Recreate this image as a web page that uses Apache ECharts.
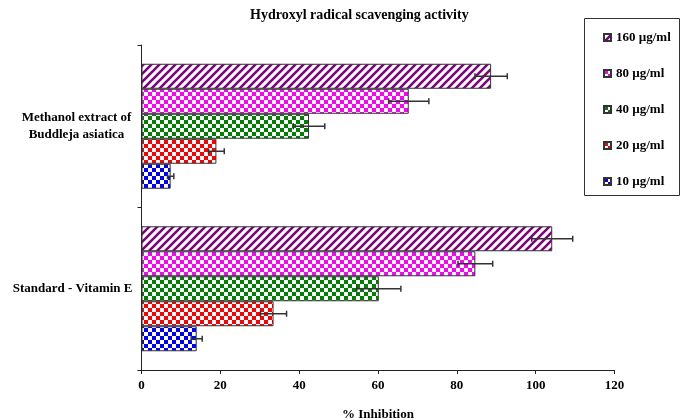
<!DOCTYPE html>
<html>
<head>
<meta charset="utf-8">
<script src="https://cdn.jsdelivr.net/npm/echarts@6/dist/echarts.min.js"></script>
<style>html,body{margin:0;padding:0;background:#fff}#c{width:682px;height:420px}</style>
</head>
<body>
<div id="c"></div>
<script>
// ---- data ----
const categories = ['Standard - Vitamin E', 'Methanol extract of\nBuddleja asiatica'];
const seriesNames = ['160 µg/ml', '80 µg/ml', '40 µg/ml', '20 µg/ml', '10 µg/ml'];
const values160 = [104.2, 88.7];
const values80 = [84.7, 67.8];
const values40 = [60.2, 42.5];
const values20 = [33.5, 19.0];
const values10 = [14.0, 7.4];
const err160 = [5.2, 4.1];
const err80 = [4.4, 5.1];
const err40 = [5.6, 4.0];
const err20 = [3.3, 2.0];
const err10 = [1.4, 0.8];
const xTicks = [0, 20, 40, 60, 80, 100, 120];

const seriesValues = [values160, values80, values40, values20, values10];
const seriesErrors = [err160, err80, err40, err20, err10];
const seriesColors = ['#800080', '#ff00ff', '#008000', '#ff0000', '#0000ff'];
const seriesKinds = ['hatch', 'check', 'check', 'check', 'check'];

function makePattern(kind, color) {
  const c = document.createElement('canvas');
  c.width = 8; c.height = 8;
  const g = c.getContext('2d');
  g.fillStyle = '#fff'; g.fillRect(0, 0, 8, 8);
  g.fillStyle = color; g.strokeStyle = color;
  if (kind === 'check') {
    g.fillRect(0, 0, 4, 4);
    g.fillRect(4, 4, 4, 4);
  } else {
    g.lineWidth = 2.6;
    g.beginPath();
    g.moveTo(-2, 10); g.lineTo(10, -2);
    g.moveTo(-2, 2); g.lineTo(2, -2);
    g.moveTo(6, 10); g.lineTo(10, 6);
    g.stroke();
  }
  return { image: c, repeat: 'repeat' };
}

const FONT = 'Liberation Serif';
const BAR_W = 25;
const N = seriesNames.length;

const series = [];
seriesNames.forEach((name, i) => {
  series.push({
    name: name,
    type: 'bar',
    barWidth: BAR_W,
    barGap: '0%',
    data: seriesValues[i],
    itemStyle: { color: makePattern(seriesKinds[i], seriesColors[i]), borderColor: '#333', borderWidth: 1 },
    emphasis: { disabled: true },
    animation: false
  });
});
seriesNames.forEach((name, i) => {
  series.push({
    type: 'custom',
    name: name + ' err',
    data: seriesValues[i].map((v, k) => [v, k, seriesErrors[i][k]]),
    encode: { x: 0, y: 1 },
    z: 10,
    animation: false,
    silent: true,
    renderItem: function (params, api) {
      const v = api.value(0), k = api.value(1), e = api.value(2);
      const lo = api.coord([v - e, k]);
      const hi = api.coord([v + e, k]);
      const y = lo[1] + (i - (N - 1) / 2) * BAR_W;
      const cap = 3;
      const st = { stroke: '#333', lineWidth: 1.5 };
      return {
        type: 'group',
        children: [
          { type: 'line', shape: { x1: lo[0], y1: y, x2: hi[0], y2: y }, style: st },
          { type: 'line', shape: { x1: lo[0], y1: y - cap, x2: lo[0], y2: y + cap }, style: st },
          { type: 'line', shape: { x1: hi[0], y1: y - cap, x2: hi[0], y2: y + cap }, style: st }
        ]
      };
    }
  });
});

const chart = echarts.init(document.getElementById('c'), null, { renderer: 'canvas' });
chart.setOption({
  animation: false,
  backgroundColor: '#fff',
  title: {
    text: 'Hydroxyl radical scavenging activity',
    left: 250, top: 8, padding: 0,
    textStyle: { fontFamily: FONT, fontWeight: 'bold', fontSize: 14, color: '#000' }
  },
  legend: {
    data: seriesNames,
    orient: 'vertical',
    left: 603, top: 31, padding: 0,
    itemWidth: 7, itemHeight: 7, itemGap: 23,
    icon: 'rect',
    textStyle: { fontFamily: FONT, fontWeight: 'bold', fontSize: 13, lineHeight: 13, color: '#000' },
    selectedMode: false
  },
  graphic: [{
    type: 'rect', shape: { x: 584.5, y: 18.5, width: 95, height: 177 },
    style: { fill: 'none', stroke: '#333', lineWidth: 1 }, silent: true
  }],
  grid: { left: 141.5, right: 67.5, top: 45, bottom: 50, containLabel: false, outerBoundsMode: 'none' },
  xAxis: {
    type: 'value', min: xTicks[0], max: xTicks[xTicks.length - 1], interval: 20,
    name: '% Inhibition', nameLocation: 'middle', nameGap: 38,
    nameTextStyle: { fontFamily: FONT, fontWeight: 'bold', fontSize: 13, color: '#000' },
    axisLine: { show: true, lineStyle: { color: '#222', width: 1 } },
    axisTick: { show: true, length: 4, lineStyle: { color: '#222' } },
    axisLabel: { margin: 9, fontFamily: FONT, fontWeight: 'bold', fontSize: 13, color: '#000' },
    splitLine: { show: false }
  },
  yAxis: {
    type: 'category', data: categories, boundaryGap: true,
    axisLine: { show: true, lineStyle: { color: '#222', width: 1 } },
    axisTick: { show: true, length: 4, lineStyle: { color: '#222' } },
    axisLabel: {
      margin: 9, align: 'right', color: '#000',
      fontFamily: FONT, fontWeight: 'bold', fontSize: 13, lineHeight: 17,
      formatter: function (val) {
        const lines = val.split('\n');
        if (lines.length > 1) return lines.map(l => '{m|' + l + '}').join('\n');
        return val;
      },
      rich: { m: { width: 112, align: 'center', fontFamily: FONT, fontWeight: 'bold', fontSize: 13, lineHeight: 17, color: '#000' } }
    }
  },
  series: series
});
</script>
</body>
</html>
